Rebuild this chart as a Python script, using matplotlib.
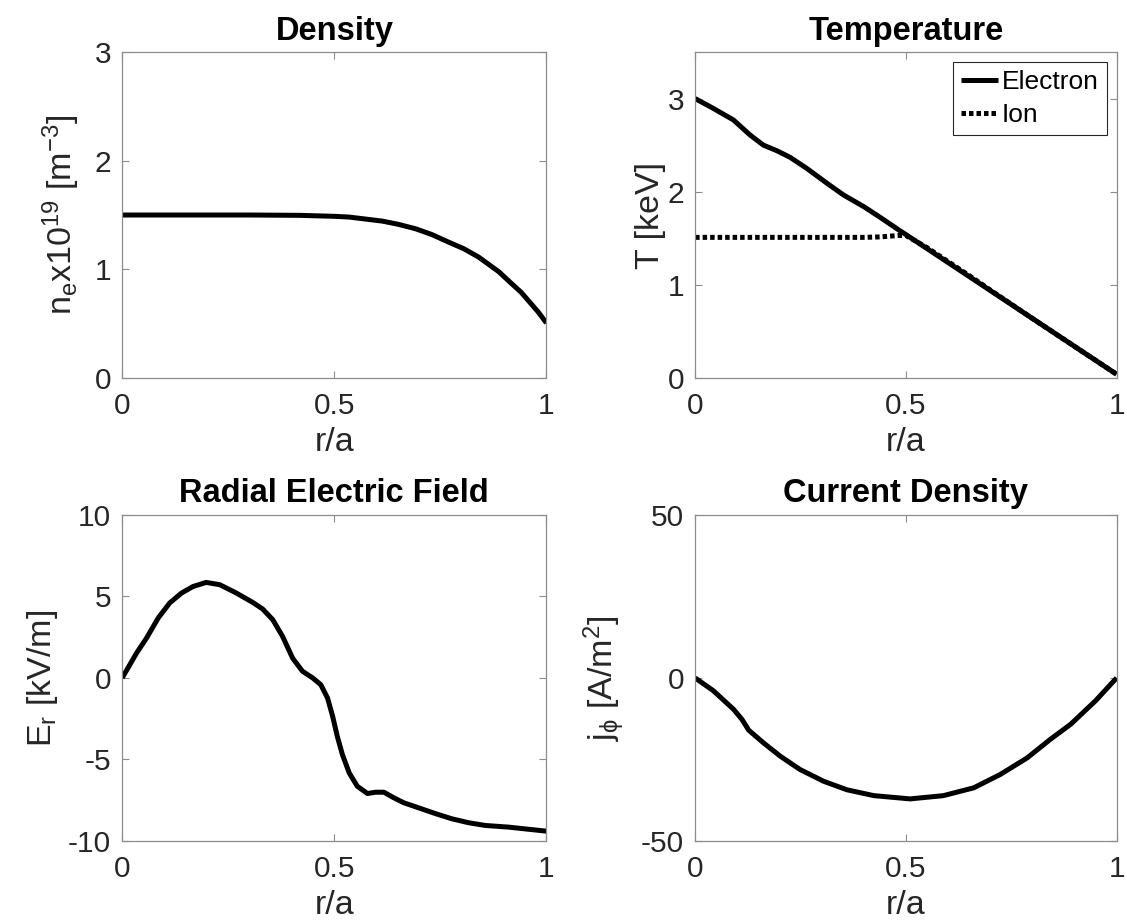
import numpy as np
import matplotlib
matplotlib.use("Agg")
import matplotlib.pyplot as plt

plt.rcParams['font.family'] = ['Liberation Sans', 'DejaVu Sans']
plt.rcParams['mathtext.default'] = 'regular'
plt.rcParams['lines.solid_joinstyle'] = 'round'
plt.rcParams['lines.solid_capstyle'] = 'butt'

# density profile
r_ne = [0.0, 0.1, 0.2, 0.3, 0.417, 0.5, 0.535, 0.613, 0.65, 0.691, 0.73, 0.769,
        0.805, 0.84, 0.887, 0.918, 0.94, 0.96, 0.98, 1.0]
ne = [1.5, 1.5, 1.5, 1.5, 1.497, 1.488, 1.481, 1.444, 1.415, 1.374, 1.32, 1.251,
      1.19, 1.113, 0.98, 0.868, 0.79, 0.70, 0.61, 0.506]

# temperature profiles
r_T = [0.0, 0.043, 0.091, 0.13, 0.162, 0.194, 0.225, 0.265, 0.313, 0.352, 0.4,
       0.439, 0.483, 0.5, 0.55, 0.6, 0.65, 0.7, 0.8, 0.9, 1.0]
Te = [3.0, 2.895, 2.77, 2.61, 2.50, 2.44, 2.37, 2.25, 2.09, 1.965, 1.84,
      1.725, 1.59, 1.54, 1.39, 1.24, 1.09, 0.94, 0.64, 0.34, 0.04]
Ti = [1.51, 1.51, 1.51, 1.51, 1.51, 1.51, 1.51, 1.51, 1.51, 1.51, 1.51,
      1.515, 1.53, 1.53, 1.40, 1.25, 1.10, 0.945, 0.64, 0.34, 0.04]

# radial electric field
r_Er = [0.0, 0.034, 0.0575, 0.085, 0.112, 0.14, 0.167, 0.198, 0.23, 0.269, 0.308,
        0.331, 0.355, 0.378, 0.402, 0.425, 0.449, 0.468, 0.484, 0.496, 0.507,
        0.519, 0.535, 0.554, 0.578, 0.597, 0.617, 0.64, 0.664, 0.699, 0.738,
        0.777, 0.816, 0.856, 0.91, 1.0]
Er = [0.0, 1.53, 2.45, 3.68, 4.6, 5.21, 5.61, 5.86, 5.72, 5.21, 4.63,
      4.23, 3.57, 2.55, 1.2, 0.41, 0.0, -0.41, -1.23, -2.35, -3.58,
      -4.7, -5.82, -6.64, -7.09, -7.01, -7.01, -7.35, -7.66, -7.97, -8.32,
      -8.64, -8.88, -9.05, -9.15, -9.4]

# current density
r_j = [0.0, 0.043, 0.091, 0.111, 0.127, 0.162, 0.202, 0.249, 0.305, 0.36, 0.424,
       0.51, 0.589, 0.661, 0.724, 0.788, 0.843, 0.891, 0.95, 1.0]
jphi = [0.0, -3.9, -9.6, -12.7, -16.0, -19.9, -24.0, -28.1, -31.7, -34.3, -36.1,
        -37.1, -36.1, -33.7, -29.6, -24.5, -18.8, -14.2, -7.0, 0.0]

lw = 3.6
fig = plt.figure(figsize=(11.27, 9.22), dpi=100)
pos = [[0.1084, 0.590, 0.3765, 0.3536], [0.6168, 0.590, 0.3740, 0.3536],
       [0.1084, 0.0879, 0.3765, 0.3536], [0.6168, 0.0879, 0.3740, 0.3536]]
axs = [fig.add_axes(p) for p in pos]

def style(ax, title, ylabel, ylim, yticks, ypad):
    ax.set_xlim(0, 1)
    ax.set_ylim(*ylim)
    ax.set_xticks([0, 0.5, 1])
    ax.set_xticklabels(['0', '0.5', '1'])
    ax.set_yticks(yticks)
    ax.set_yticklabels([str(t) for t in yticks])
    ax.tick_params(direction='in', top=True, right=True, length=5, width=0.8,
                   color='#8c8c8c', labelcolor='#262626', labelsize=21.5)
    ax.tick_params(axis='x', pad=10)
    ax.tick_params(axis='y', pad=8)
    for s in ax.spines.values():
        s.set_color('#8c8c8c')
        s.set_linewidth(0.9)
    ax.set_title(title, fontsize=23.5, fontweight='bold', pad=9)
    ax.set_xlabel('r/a', fontsize=24.5, color='#262626', labelpad=5)
    ax.set_ylabel(ylabel, fontsize=24.5, color='#262626', labelpad=ypad)

ax = axs[0]
ax.plot(r_ne, ne, color='k', lw=lw)
style(ax, 'Density', r'n$_e$x10$^{19}$ [m$^{-3}$]', (0, 3), [0, 1, 2, 3], 9)

ax = axs[1]
ax.plot(r_T, Te, color='k', lw=lw, label='Electron')
ax.plot(r_T, Ti, color='k', lw=lw, ls=(0, (0.9, 0.6)), label='Ion')
style(ax, 'Temperature', 'T [keV]', (0, 3.5), [0, 1, 2, 3], 1)
leg = ax.legend(loc='upper right', fontsize=19, handlelength=1.4, handletextpad=0.15,
                borderpad=0.3, labelspacing=0.35, fancybox=False, framealpha=1,
                borderaxespad=0.38)
leg.get_frame().set_edgecolor('#262626')
leg.get_frame().set_linewidth(0.8)

ax = axs[2]
ax.plot(r_Er, Er, color='k', lw=lw)
style(ax, 'Radial Electric Field', r'E$_r$ [kV/m]', (-10, 10), [-10, -5, 0, 5, 10], 6)

ax = axs[3]
ax.plot(r_j, jphi, color='k', lw=lw)
style(ax, 'Current Density', r'j$_\phi$ [A/m$^2$]', (-50, 50), [-50, 0, 50], 10)

fig.savefig('out.png', dpi=100)
